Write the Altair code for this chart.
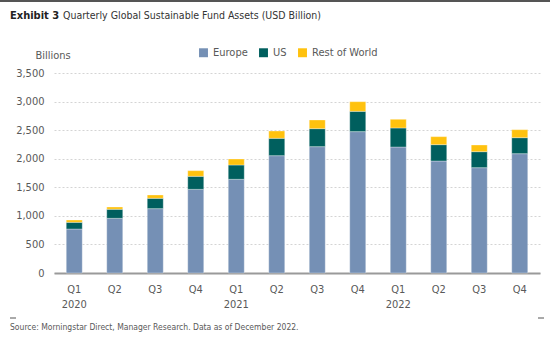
import altair as alt
import pandas as pd

quarters = ["2020 Q1", "2020 Q2", "2020 Q3", "2020 Q4",
            "2021 Q1", "2021 Q2", "2021 Q3", "2021 Q4",
            "2022 Q1", "2022 Q2", "2022 Q3", "2022 Q4"]
europe = [770, 957, 1126, 1464, 1640, 2053, 2211, 2474, 2205, 1960, 1843, 2088]
us = [117, 158, 181, 228, 250, 304, 315, 355, 333, 286, 280, 280]
rest = [40, 40, 58, 99, 105, 128, 152, 169, 152, 140, 117, 140]
series = ["Europe", "US", "Rest of World"]
colors = ["#7590B5", "#005F5E", "#FFC20E"]

rows = []
for i, q in enumerate(quarters):
    for k, (name, vals) in enumerate(zip(series, [europe, us, rest])):
        rows.append({"quarter": q, "region": name, "value": vals[i], "ord": k})
df = pd.DataFrame(rows)

FONT = "'DejaVu Sans Condensed', 'Liberation Sans Narrow', 'Roboto Condensed', 'Liberation Sans', sans-serif"
TXT = "#595959"

label_expr = ("slice(datum.value, 5) == 'Q1' ? [slice(datum.value, 5), slice(datum.value, 0, 4)]"
              " : slice(datum.value, 5)")

bars = alt.Chart(df).mark_bar(size=16, stroke="#ffffff", strokeOpacity=0.4, strokeWidth=0.8).encode(
    x=alt.X("quarter:N", sort=quarters, title=None,
            scale=alt.Scale(paddingInner=0, paddingOuter=0),
            axis=alt.Axis(labelExpr=label_expr, labelAngle=0, ticks=False,
                          domain=True, domainColor="#9a9a9a", domainWidth=2,
                          labelPadding=10, labelFont=FONT, labelFontSize=11,
                          labelColor=TXT, labelLineHeight=15, grid=False)),
    y=alt.Y("value:Q", stack="zero", title="Billions",
            scale=alt.Scale(domain=[0, 3500]),
            axis=alt.Axis(values=list(range(0, 3501, 500)), format=",d", ticks=False,
                          domain=False, labelPadding=10, labelFont=FONT,
                          labelFontSize=11, labelColor=TXT,
                          grid=True, gridColor="#d4d4d4", gridDash=[2, 2],
                          titleAngle=0, titleX=-19, titleY=-13, titleAlign="left",
                          titleFont=FONT, titleFontSize=11, titleFontWeight="normal",
                          titleColor=TXT)),
    color=alt.Color("region:N", scale=alt.Scale(domain=series, range=colors),
                    legend=alt.Legend(title=None, orient="none", direction="horizontal",
                                      legendX=144, legendY=-26, symbolType="square",
                                      symbolSize=80, symbolStrokeWidth=0,
                                      labelFont=FONT, labelFontSize=11, labelColor=TXT,
                                      columnPadding=10)),
    order=alt.Order("ord:Q"),
)

title_bold = alt.Chart(pd.DataFrame({"t": ["Exhibit 3"]})).mark_text(
    align="left", baseline="alphabetic", font=FONT, fontSize=11, fontWeight="bold",
    color="#222222").encode(text="t:N", x=alt.value(-44), y=alt.value(-54))
title_rest = alt.Chart(pd.DataFrame({"t": ["Quarterly Global Sustainable Fund Assets (USD Billion)"]})).mark_text(
    align="left", baseline="alphabetic", font=FONT, fontSize=10.5,
    color="#333333").encode(text="t:N", x=alt.value(9), y=alt.value(-54))
source = alt.Chart(pd.DataFrame({"t": ["Source: Morningstar Direct, Manager Research. Data as of December 2022."]})).mark_text(
    align="left", baseline="alphabetic", font=FONT, fontSize=8.5,
    color=TXT).encode(text="t:N", x=alt.value(-44), y=alt.value(257))
top_rule = alt.Chart(pd.DataFrame({"a": [0]})).mark_rule(color="#555555", strokeWidth=2).encode(
    x=alt.value(-54), x2=alt.value(496), y=alt.value(-72))
dash_l = alt.Chart(pd.DataFrame({"a": [0]})).mark_rule(color="#555555", strokeWidth=1).encode(
    x=alt.value(-44), x2=alt.value(-38), y=alt.value(245))
dash_r = alt.Chart(pd.DataFrame({"a": [0]})).mark_rule(color="#555555", strokeWidth=1).encode(
    x=alt.value(484), x2=alt.value(490), y=alt.value(245))

chart = alt.layer(bars, title_bold, title_rest, source, top_rule, dash_l, dash_r).properties(
    width=486, height=200,
    autosize=alt.AutoSizeParams(type="none"),
    padding={"left": 54, "top": 73, "right": 10, "bottom": 67},
).configure_view(stroke=None)

chart.save("out.html", embed_options={"renderer": "svg", "actions": False})
